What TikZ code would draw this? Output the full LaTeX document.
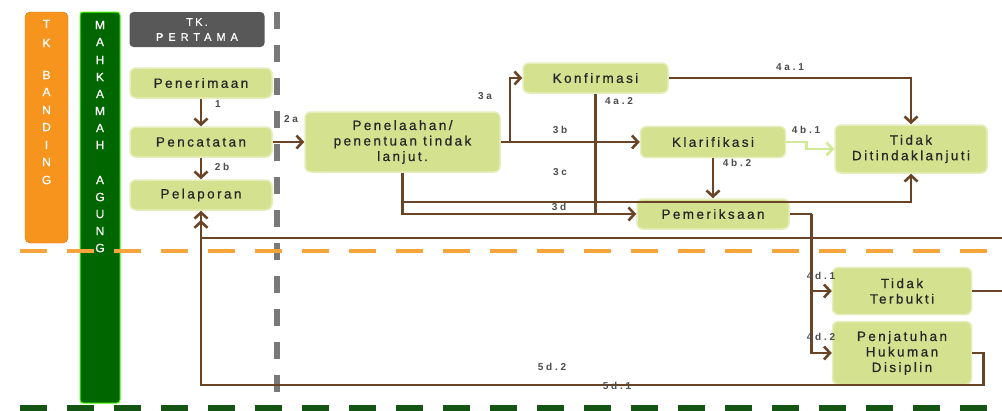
\documentclass[tikz,border=0pt]{standalone}
\usepackage{fontspec}
\setmainfont{Liberation Sans}
\newfontfamily\boxfont[LetterSpace=18,FakeBold=0.6]{Liberation Sans}
\newfontfamily\tagfont[LetterSpace=28]{Liberation Sans}
\newfontfamily\barfont[FakeBold=0.5]{Liberation Sans}
\newfontfamily\capfont[LetterSpace=20,FakeBold=0.5]{Liberation Sans}
\newfontfamily\widecapfont[LetterSpace=45,FakeBold=0.5]{Liberation Sans}
\usetikzlibrary{arrows.meta,positioning}
\definecolor{boxgreen}{RGB}{212,226,144}
\definecolor{flowbrown}{RGB}{105,68,38}
\definecolor{barorange}{RGB}{247,148,30}
\definecolor{bargreen}{RGB}{0,102,0}
\definecolor{paleline}{RGB}{208,234,150}
\definecolor{dashorange}{RGB}{245,165,60}
\definecolor{dashgreen}{RGB}{20,85,20}
\definecolor{headgray}{RGB}{88,88,88}

\begin{document}
\begin{tikzpicture}
	% Styles
	[
	x=1pt, y=-1pt,
	stage/.style={rectangle,rounded corners=6pt,fill=boxgreen,draw=boxgreen!60!white,line width=1.5pt,inner sep=1pt,text=black!85,font=\boxfont\fontsize{13.5}{15.5}\selectfont,align=center},
	flow/.style={draw=flowbrown,line width=2.6pt,-{Straight Barb[length=6pt,width=13pt]}},
	link/.style={draw=flowbrown,line width=2.6pt},
	pale/.style={draw=paleline,line width=2.6pt,-{Straight Barb[length=6pt,width=13pt]}},
	tag/.style={text=black!70,font=\tagfont\bfseries\fontsize{10}{10}\selectfont,inner sep=0pt},
	barletter/.style={text=white,font=\barfont\fontsize{12}{12}\selectfont,inner sep=0pt},
	]

	\useasboundingbox (0,0) rectangle (1002,410);
	\fill[white] (0,0) rectangle (1002,410);

	% Lanes
	\draw[barorange!80!black,fill=barorange,rounded corners=5pt] (25,12) rectangle (68,243);
	\draw[green!60!lime,fill=bargreen,line width=1pt,rounded corners=3pt] (80,12) rectangle (120,403);
	\node at (197,29.5) (pertama) [rectangle,rounded corners=4pt,fill=headgray,minimum width=135pt,minimum height=35pt,inner sep=0pt,text=white,align=center,font=\fontsize{11}{15}\selectfont] {{\capfont TK.}\\{\widecapfont PERTAMA}};
	\foreach \l/\y [count=\i] in {T/24,K/43,B/75,A/92,N/110,D/127,I/145,N/162,G/180}
		\node at (46.5,\y) (banding\i) [barletter] {\l};
	\foreach \l/\y [count=\i] in {M/25,A/42,H/60,K/77,A/94,M/111,A/128,H/145,A/180,G/197,U/214,N/231,G/248}
		\node at (100,\y) (agung\i) [barletter] {\l};

	\draw[headgray!80,line width=6pt,dash pattern=on 17pt off 16pt] (277,12) -- (277,405);
	\draw[dashorange,line width=4pt,dash pattern=on 27pt off 20pt] (20,251) -- (1002,251);
	\draw[dashgreen,line width=7pt,dash pattern=on 27pt off 20pt] (20,408) -- (1002,408);

	% Nodes
	\node at (201,83)	(pener)	[stage,minimum width=142pt,minimum height=30pt] {Penerimaan};
	\node at (201,142)	(pencat)	[stage,minimum width=142pt,minimum height=30pt] {Pencatatan};
	\node at (201,195)	(pelapor)	[stage,minimum width=142pt,minimum height=30pt] {Pelaporan};
	\node at (402.5,142)	(telaah)	[stage,minimum width=195pt,minimum height=60pt] {Penelaahan/\\penentuan tindak\\lanjut.};
	\node at (595.5,78)	(konf)	[stage,minimum width=145pt,minimum height=30pt] {Konfirmasi};
	\node at (713,142)	(klar)	[stage,minimum width=145pt,minimum height=31pt] {Klarifikasi};
	\node at (911,149)	(tidak)	[stage,minimum width=152pt,minimum height=48pt] {Tidak\\Ditindaklanjuti};
	\node at (713,214)	(pemer)	[stage,minimum width=152pt,minimum height=30pt] {Pemeriksaan};
	\node at (902,291)	(terbukti)	[stage,minimum width=139pt,minimum height=47pt] {Tidak\\Terbukti};
	\node at (902,353)	(sanksi)	[stage,minimum width=139pt,minimum height=63pt] {Penjatuhan\\Hukuman\\Disiplin};

	\coordinate (fork3a) at (510,142);
	\coordinate (fork3c) at (402.5,202);
	\coordinate (exit1) at (1002,291);
	\coordinate (exit2) at (1002,238);
	\coordinate (ret1) at (201,385);
	\coordinate (ret2) at (201,220);

	% Connections
	\draw[flow] (pener) -- (pencat);
	\draw[flow] (pencat) -- (pelapor);
	\draw[flow] (pencat) -- (telaah);
	\draw[flow] (telaah) -- (klar);
	\draw[flow] (fork3a) |- (konf);
	\draw[flow] (konf) -| (tidak);
	\draw[link] (konf.south) -- (konf.south |- pemer.west);
	\draw[flow] (telaah.south) |- (pemer);
	\draw[flow] (fork3c) -| (tidak);
	\draw[flow] (klar) -- (pemer);
	\draw[pale] (klar.east) -- ++(20,0) |- (tidak);
	\draw[link] (pemer.east) -- ++(22,0) coordinate (fork4d);
	\draw[flow] (fork4d) |- (terbukti);
	\draw[flow] (fork4d) |- (sanksi);
	\draw[link] (terbukti) -- (exit1);
	\draw[flow] (exit2) -| (ret2);
	\draw[flow] (sanksi.east) -- ++(11,0) |- (ret1) -- (pelapor);

	% Labels
	\node at (218,104)	(l1)	[tag] {1};
	\node at (222,167)	(l2b)	[tag] {2b};
	\node at (291,119)	(l2a)	[tag] {2a};
	\node at (485,96)	(l3a)	[tag] {3a};
	\node at (560,130)	(l3b)	[tag] {3b};
	\node at (560,172)	(l3c)	[tag] {3c};
	\node at (559,207)	(l3d)	[tag] {3d};
	\node at (790,67)	(l4a1)	[tag] {4a.1};
	\node at (619,101)	(l4a2)	[tag] {4a.2};
	\node at (806,130)	(l4b1)	[tag] {4b.1};
	\node at (737,163)	(l4b2)	[tag] {4b.2};
	\node at (821,276)	(l4d1)	[tag] {4d.1};
	\node at (821,337)	(l4d2)	[tag] {4d.2};
	\node at (552,367)	(l5d2)	[tag] {5d.2};
	\node at (617,386)	(l5d1)	[tag] {5d.1};

\end{tikzpicture}
\end{document}
